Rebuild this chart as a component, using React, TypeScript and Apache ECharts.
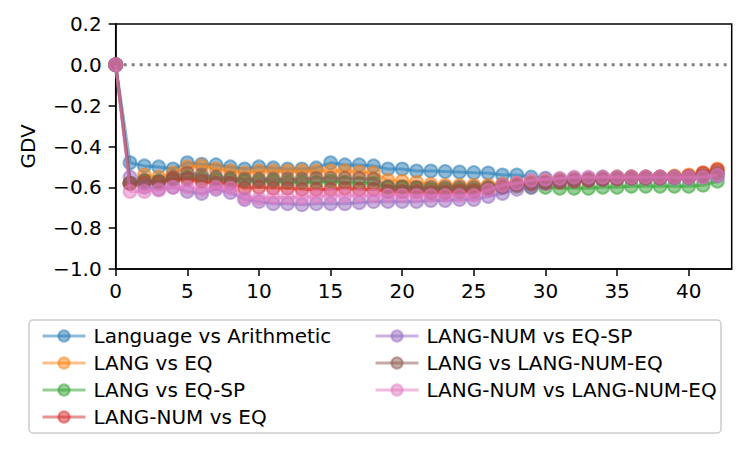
import React, { useEffect, useRef } from "react";
import * as echarts from "echarts";

const seriesNames = [
  "Language vs Arithmetic",
  "LANG vs EQ",
  "LANG vs EQ-SP",
  "LANG-NUM vs EQ",
  "LANG-NUM vs EQ-SP",
  "LANG vs LANG-NUM-EQ",
  "LANG-NUM vs LANG-NUM-EQ",
];

const colors = ["#1f77b4", "#ff7f0e", "#2ca02c", "#d62728", "#9467bd", "#8c564b", "#e377c2"];

const langVsArith = [0, -0.48, -0.495, -0.5, -0.51, -0.48, -0.487, -0.49, -0.5, -0.51, -0.5, -0.505, -0.51, -0.51, -0.505, -0.48, -0.49, -0.49, -0.495, -0.51, -0.51, -0.52, -0.52, -0.523, -0.525, -0.528, -0.53, -0.54, -0.54, -0.55, -0.556, -0.56, -0.555, -0.555, -0.55, -0.55, -0.55, -0.55, -0.55, -0.55, -0.55, -0.545, -0.54];
const langVsEq = [0, -0.58, -0.54, -0.55, -0.53, -0.5, -0.495, -0.51, -0.52, -0.53, -0.52, -0.52, -0.52, -0.52, -0.52, -0.52, -0.52, -0.525, -0.53, -0.565, -0.57, -0.575, -0.585, -0.59, -0.59, -0.59, -0.59, -0.585, -0.58, -0.575, -0.57, -0.565, -0.56, -0.56, -0.555, -0.55, -0.55, -0.55, -0.55, -0.545, -0.54, -0.53, -0.51];
const langVsEqSp = [0, -0.58, -0.57, -0.57, -0.56, -0.55, -0.555, -0.56, -0.565, -0.57, -0.57, -0.57, -0.575, -0.575, -0.575, -0.57, -0.575, -0.58, -0.58, -0.6, -0.6, -0.605, -0.61, -0.61, -0.61, -0.61, -0.605, -0.6, -0.595, -0.6, -0.6, -0.605, -0.605, -0.605, -0.6, -0.6, -0.595, -0.595, -0.595, -0.595, -0.595, -0.59, -0.57];
const langNumVsEq = [0, -0.58, -0.58, -0.58, -0.56, -0.56, -0.57, -0.58, -0.58, -0.605, -0.6, -0.605, -0.605, -0.61, -0.61, -0.61, -0.605, -0.61, -0.61, -0.62, -0.62, -0.62, -0.625, -0.625, -0.62, -0.62, -0.61, -0.6, -0.59, -0.585, -0.58, -0.575, -0.57, -0.565, -0.56, -0.555, -0.55, -0.55, -0.55, -0.55, -0.545, -0.53, -0.515];
const langNumVsEqSp = [0, -0.55, -0.6, -0.61, -0.6, -0.62, -0.63, -0.61, -0.625, -0.66, -0.67, -0.68, -0.68, -0.685, -0.68, -0.68, -0.68, -0.675, -0.67, -0.67, -0.67, -0.67, -0.665, -0.665, -0.66, -0.66, -0.645, -0.63, -0.61, -0.6, -0.58, -0.57, -0.565, -0.56, -0.56, -0.555, -0.555, -0.555, -0.555, -0.555, -0.555, -0.55, -0.545];
const langVsLangNumEq = [0, -0.58, -0.565, -0.57, -0.55, -0.53, -0.54, -0.55, -0.555, -0.56, -0.56, -0.56, -0.56, -0.56, -0.556, -0.556, -0.556, -0.556, -0.56, -0.597, -0.597, -0.6, -0.6, -0.6, -0.6, -0.6, -0.6, -0.59, -0.585, -0.58, -0.575, -0.57, -0.565, -0.565, -0.56, -0.56, -0.555, -0.555, -0.555, -0.55, -0.55, -0.545, -0.53];
const langNumVsLangNumEq = [0, -0.62, -0.62, -0.613, -0.6, -0.6, -0.61, -0.6, -0.605, -0.65, -0.654, -0.65, -0.65, -0.65, -0.645, -0.64, -0.64, -0.64, -0.64, -0.64, -0.64, -0.64, -0.64, -0.64, -0.64, -0.64, -0.613, -0.59, -0.58, -0.565, -0.56, -0.556, -0.55, -0.55, -0.55, -0.55, -0.55, -0.55, -0.55, -0.55, -0.55, -0.55, -0.54];

const allValues = [langVsArith, langVsEq, langVsEqSp, langNumVsEq, langNumVsEqSp, langVsLangNumEq, langNumVsLangNumEq];

const xTicks = [0, 5, 10, 15, 20, 25, 30, 35, 40];
const yTicks = [-1.0, -0.8, -0.6, -0.4, -0.2, 0.0, 0.2];
const zeroLine = [[0, 0], [43, 0]];

const FONT = "DejaVu Sans";

function fmtY(v: number): string {
  if (Math.abs(v) < 1e-9) return "0.0";
  return (v < 0 ? "\u2212" : "") + Math.abs(v).toFixed(1);
}

export default function App() {
  const ref = useRef<HTMLDivElement>(null);
  useEffect(() => {
    if (!ref.current) return;
    const chart = echarts.init(ref.current, undefined, { renderer: "svg" });
    const series: any[] = [
      {
        name: "zero",
        type: "line",
        data: zeroLine,
        silent: true,
        symbol: "none",
        showSymbol: false,
        lineStyle: { color: "#808080", width: 3, type: [3, 5] },
        emphasis: { disabled: true },
        z: 2,
      },
    ];
    allValues.forEach((vals, i) => {
      series.push({
        name: seriesNames[i],
        type: "line",
        data: vals.map((v, x) => [x, v]),
        symbol: "circle",
        symbolSize: 13,
        showSymbol: true,
        lineStyle: { color: colors[i], width: 3, opacity: 0.5 },
        itemStyle: { color: colors[i], borderColor: colors[i], borderWidth: 2, opacity: 0.5 },
        emphasis: { disabled: true },
        z: 3 + i,
      });
    });
    const legendText = { color: "#000", fontSize: 20, lineHeight: 20, fontFamily: FONT, padding: [0, 0, 0, 3] };
    const legendCommon = {
      orient: "vertical",
      top: 321,
      itemWidth: 43,
      itemHeight: 14,
      itemGap: 7,
      selectedMode: false,
      textStyle: legendText,
      lineStyle: { width: 3 },
      z: 10,
    };
    chart.setOption({
      animation: false,
      textStyle: { fontFamily: FONT },
      grid: {
        left: 115.7,
        top: 24,
        right: 16.3,
        bottom: 190,
        show: true,
        borderColor: "#000",
        borderWidth: 1.5,
        backgroundColor: "transparent",
      },
      xAxis: {
        type: "value",
        min: 0,
        max: 43,
        interval: 5,
        axisLine: { show: true, onZero: false, lineStyle: { color: "#000", width: 1.5 } },
        axisTick: { show: true, length: 7, lineStyle: { color: "#000", width: 1.5 }, customValues: xTicks },
        axisLabel: { color: "#000", fontSize: 20, fontFamily: FONT, margin: 12, customValues: xTicks, formatter: (v: number) => String(v) },
        splitLine: { show: false },
      },
      yAxis: {
        type: "value",
        min: -1.0,
        max: 0.2,
        interval: 0.2,
        name: "GDV",
        nameLocation: "middle",
        nameGap: 78,
        nameTextStyle: { color: "#000", fontSize: 20, fontFamily: FONT },
        axisLine: { show: true, onZero: false, lineStyle: { color: "#000", width: 1.5 } },
        axisTick: { show: true, length: 7, lineStyle: { color: "#000", width: 1.5 }, customValues: yTicks },
        axisLabel: { color: "#000", fontSize: 20, fontFamily: FONT, margin: 14, customValues: yTicks, formatter: fmtY },
        splitLine: { show: false },
      },
      legend: [
        { ...legendCommon, data: seriesNames.slice(0, 4), left: 36 },
        { ...legendCommon, data: seriesNames.slice(4), left: 369 },
      ],
      graphic: [
        {
          type: "rect",
          z: 1,
          shape: { x: 29, y: 320, width: 692, height: 113, r: 4 },
          style: { fill: "rgba(255,255,255,0.8)", stroke: "#cccccc", lineWidth: 1.5 },
          silent: true,
        },
      ],
      series,
    });
    return () => chart.dispose();
  }, []);
  return (
    <div
      ref={ref}
      style={{ position: "fixed", left: 0, top: 0, width: 748, height: 459, background: "#fff" }}
    />
  );
}
